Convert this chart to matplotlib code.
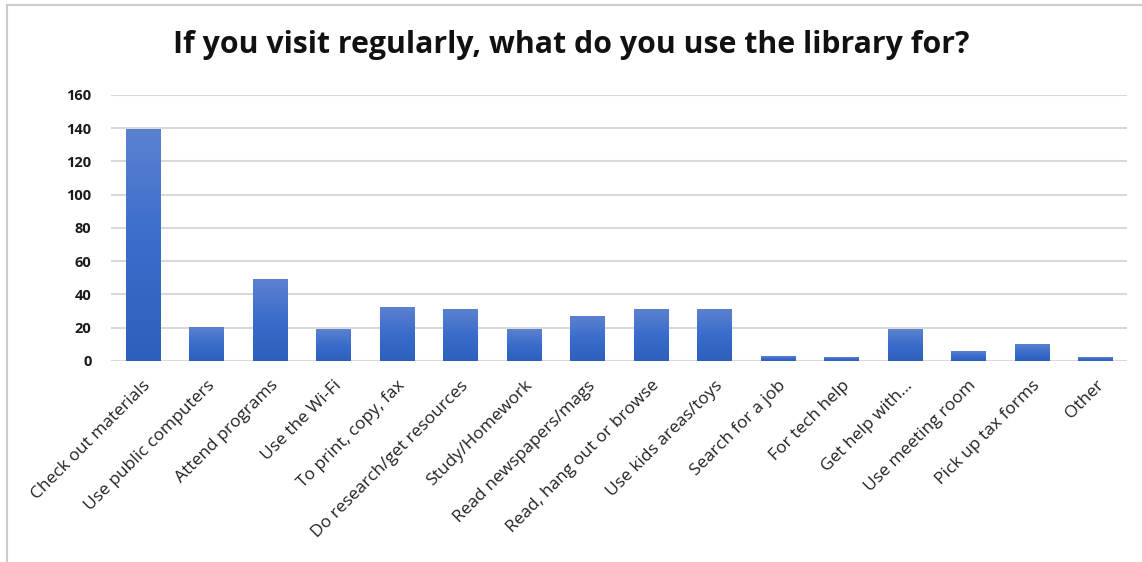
import matplotlib.pyplot as plt
import numpy as np
from matplotlib.lines import Line2D

categories = ['Check out materials', 'Use public computers', 'Attend programs',
              'Use the Wi-Fi', 'To print, copy, fax', 'Do research/get resources',
              'Study/Homework', 'Read newspapers/mags', 'Read, hang out or browse',
              'Use kids areas/toys', 'Search for a job', 'For tech help',
              'Get help with...', 'Use meeting room', 'Pick up tax forms', 'Other']
counts = [139, 20, 49, 19, 32, 31, 19, 27, 31, 31, 3, 2, 19, 6, 10, 2]
yticks = [0, 20, 40, 60, 80, 100, 120, 140, 160]

plt.rcParams['font.family'] = ['Open Sans', 'DejaVu Sans']

fig = plt.figure(figsize=(11.42, 5.62), dpi=100)
ax = fig.add_axes([0.0972, 0.3577, 0.8898, 0.4733])

x = np.arange(len(categories))
width = 0.54

# bars with a vertical gradient (lighter at top)
grad = np.linspace(0, 1, 256).reshape(-1, 1)
cmap = plt.matplotlib.colors.LinearSegmentedColormap.from_list(
    'bar', ['#2e5fbd', '#3a6ccb', '#5b82d0'])
bars = ax.bar(x, counts, width=width, color='none', edgecolor='none', zorder=3)
for b in bars:
    x0, y0 = b.get_x(), b.get_y()
    w, h = b.get_width(), b.get_height()
    ax.imshow(grad, cmap=cmap, aspect='auto', origin='lower',
              extent=[x0, x0 + w, y0, y0 + h], zorder=3)
    # soft shadow under each bar
    ax.plot([x0 + 0.02, x0 + w - 0.02], [-0.9, -0.9], color='#8a8a8a',
            lw=2.2, alpha=0.6, solid_capstyle='butt', zorder=2)

ax.set_xlim(-0.5, len(categories) - 0.5)
ax.set_ylim(0, 160)
ax.set_yticks(yticks)
ax.set_yticklabels([str(t) for t in yticks], fontsize=10.5, fontweight='bold',
                   color='#1a1a1a')
ax.set_xticks(x)
ax.set_xticklabels(categories, rotation=45, ha='right', rotation_mode='anchor',
                   fontsize=12.5, color='#222222')
ax.tick_params(axis='both', length=0)
ax.tick_params(axis='y', pad=14)
ax.tick_params(axis='x', pad=12)
ax.grid(axis='y', color='#d9d9d9', linewidth=1.5, zorder=0)
ax.set_axisbelow(True)
for s in ax.spines.values():
    s.set_visible(False)

fig.text(0.5, 0.92, 'If you visit regularly, what do you use the library for?',
         ha='center', va='center', fontsize=21.8, fontweight='bold', color='#111111')

# chart frame edges
fig.add_artist(Line2D([7 / 1142, 7 / 1142], [0, 1 - 5 / 562], color='#cccccc', lw=1.5))
fig.add_artist(Line2D([7 / 1142, 1], [1 - 5 / 562, 1 - 5 / 562], color='#cccccc', lw=1.5))

fig.savefig('out.png', dpi=100)
